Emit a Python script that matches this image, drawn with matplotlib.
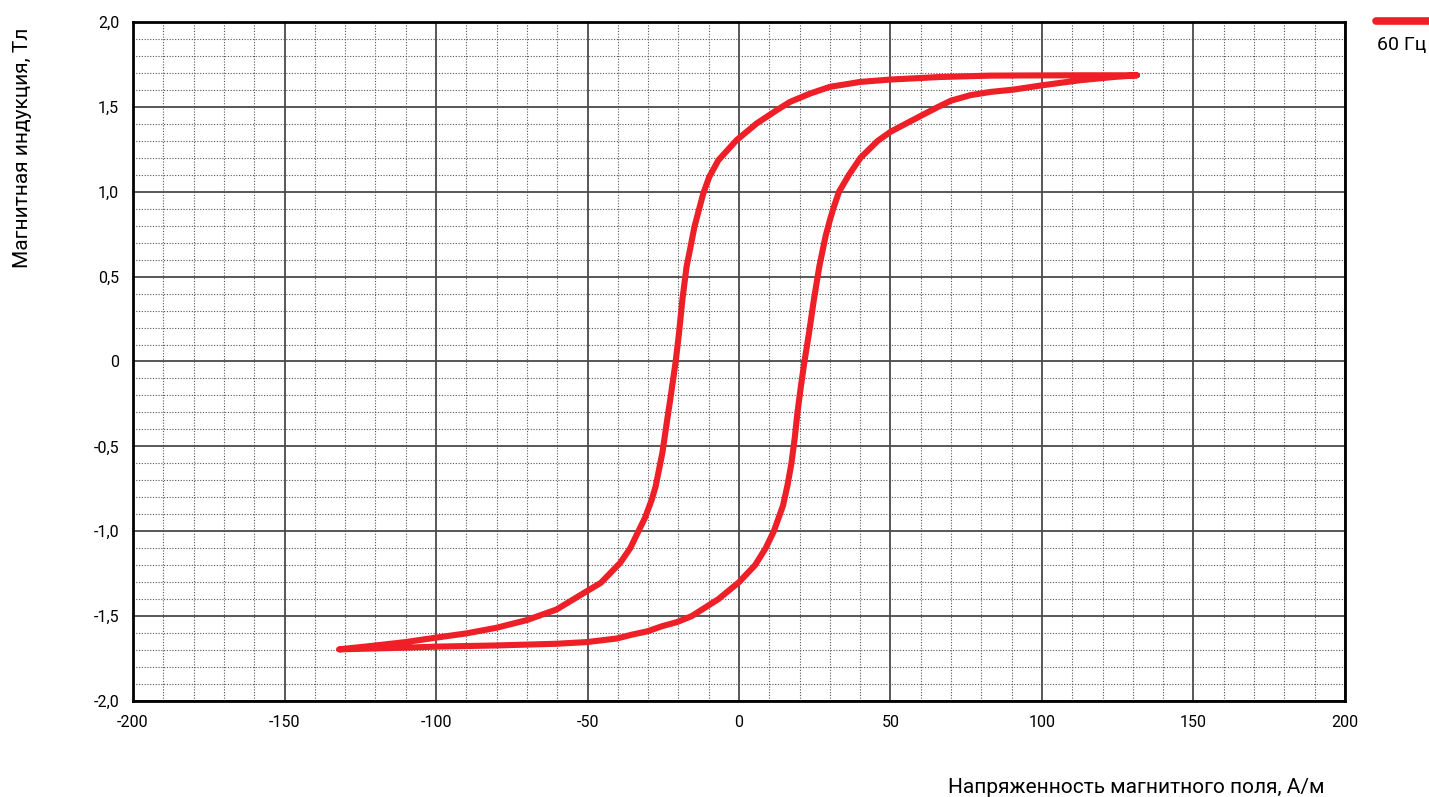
import numpy as np
import matplotlib.pyplot as plt
from matplotlib.ticker import MultipleLocator, FuncFormatter
from matplotlib.lines import Line2D

# Descending branch (from +Hmax to -Hmax): H in A/m, B in T
h_down = [131.3, 112.6, 95, 83, 66.5, 50, 40, 30, 23.4, 16.8, 12.4, 5.8, -0.8,
          -6.8, -9.8, -11.8, -14.7, -16.2, -17.3, -18.7, -19.8, -20.9, -22.7, -23.7,
          -25.3, -27.5, -28.8, -31.0, -33.2, -35.9, -39.2, -45.6, -50.2, -60.2, -70.1,
          -80.1, -90, -100, -110, -119.9, -132]
b_down = [1.686, 1.686, 1.685, 1.684, 1.676, 1.661, 1.647, 1.618, 1.578, 1.529, 1.480,
          1.402, 1.304, 1.186, 1.088, 0.990, 0.794, 0.657, 0.559, 0.363, 0.167, 0.0, -0.225,
          -0.343, -0.539, -0.735, -0.814, -0.920, -1.000, -1.100, -1.186, -1.304, -1.353,
          -1.461, -1.524, -1.569, -1.602, -1.627, -1.653, -1.673, -1.696]

# Ascending branch (from -Hmax to +Hmax)
h_up = [-132, -123.2, -110, -100, -80.1, -60.2, -50.2, -40.3, -35.5, -30.3, -25.3, -20.4,
        -15.6, -6.8, 0, 5.3, 8.8, 11.5, 14.5, 16.0, 17.3, 18.4, 19.3, 20.4, 21.6, 23.1, 24.7,
        26.5, 28.6, 30.0, 31.1, 33.0, 36.3, 40.1, 45.8, 50, 55.5, 60, 65.4, 70, 76.4, 83,
        90.7, 100, 112.6, 123.6, 131.3]
b_up = [-1.696, -1.692, -1.686, -1.680, -1.673, -1.663, -1.653, -1.632, -1.610, -1.590,
        -1.559, -1.535, -1.500, -1.400, -1.300, -1.200, -1.100, -1.000, -0.850, -0.730,
        -0.600, -0.450, -0.300, -0.150, 0.0, 0.167, 0.363, 0.559, 0.740, 0.833, 0.900, 1.000,
        1.100, 1.200, 1.300, 1.353, 1.405, 1.447, 1.497, 1.537, 1.569, 1.588, 1.602, 1.627,
        1.657, 1.676, 1.686]

x_ticks = [-200, -150, -100, -50, 0, 50, 100, 150, 200]
y_ticks = [-2.0, -1.5, -1.0, -0.5, 0, 0.5, 1.0, 1.5, 2.0]
line_color = '#ee1f27'

fig = plt.figure(figsize=(14.29, 7.97), dpi=100)
ax = fig.add_axes([0.0931, 0.1205, 0.8481, 0.8519])

ax.plot(h_down + h_up, b_down + b_up, color=line_color, linewidth=4.4,
        solid_capstyle='round', solid_joinstyle='round', zorder=5)

ax.set_xlim(-200, 200)
ax.set_ylim(-2.0, 2.0)
ax.set_xticks(x_ticks)
ax.set_yticks(y_ticks)
ax.xaxis.set_minor_locator(MultipleLocator(10))
ax.yaxis.set_minor_locator(MultipleLocator(0.1))

ax.yaxis.set_major_formatter(FuncFormatter(
    lambda v, p: '0' if abs(v) < 1e-9 else f'{v:.1f}'.replace('.', ',')))
ax.xaxis.set_major_formatter(FuncFormatter(lambda v, p: f'{v:.0f}'))

ax.grid(which='major', color='#4a4a4a', linewidth=1.3, linestyle='-')
ax.grid(which='minor', color='#555555', linewidth=0.8, linestyle=(0, (1, 1.5)))
ax.set_axisbelow(True)

ax.tick_params(which='both', length=0)
ax.tick_params(axis='y', pad=10)
ax.tick_params(axis='x', pad=10)
for lbl in ax.get_xticklabels() + ax.get_yticklabels():
    lbl.set_fontfamily('Roboto')
    lbl.set_fontsize(11.5)

for sp in ax.spines.values():
    sp.set_linewidth(2)
    sp.set_color('black')

fig.text(0.795, 0.0125, 'Напряженность магнитного поля, А/м', ha='center', va='center',
         fontsize=15, family='Roboto')
fig.text(0.0154, 0.815, 'Магнитная индукция, Тл', ha='center', va='center', rotation=90,
         fontsize=15, family='Roboto')

# legend: line above text at top right
fig.add_artist(Line2D([0.963, 1.01], [0.9737, 0.9737], color=line_color, linewidth=5.5,
                      solid_capstyle='round', transform=fig.transFigure))
fig.text(0.998, 0.943, '60 Гц', ha='right', va='center', fontsize=14, family='Roboto')

fig.savefig('out.png', dpi=100)
